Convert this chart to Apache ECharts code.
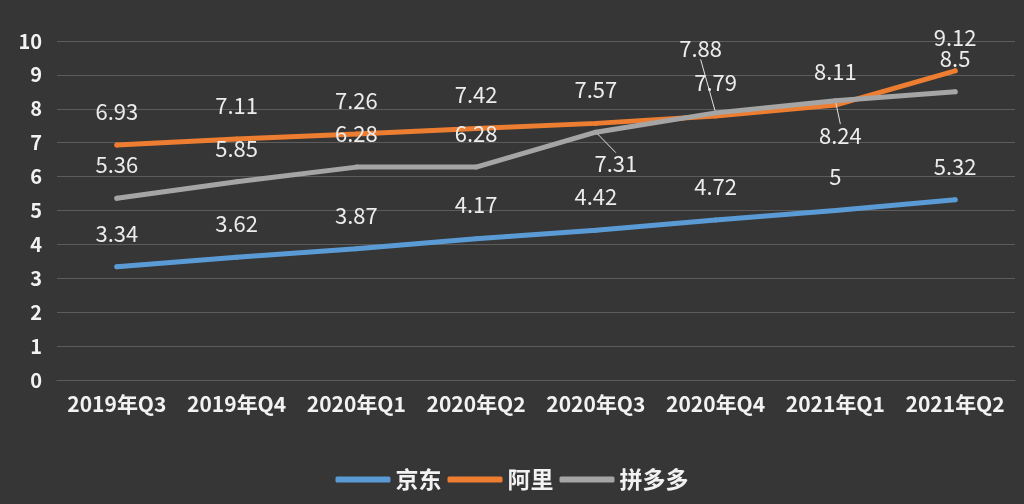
<!DOCTYPE html>
<html><head><meta charset="utf-8">
<script src="https://cdn.jsdelivr.net/npm/echarts@6/dist/echarts.min.js"></script>
<style>html,body{margin:0;padding:0;background:#363636;}#c{width:1024px;height:504px;}</style>
</head><body><div id="c"></div>
<script>
var categories = ['2019年Q3','2019年Q4','2020年Q1','2020年Q2','2020年Q3','2020年Q4','2021年Q1','2021年Q2'];
var jd  = [3.34, 3.62, 3.87, 4.17, 4.42, 4.72, 5, 5.32];
var ali = [6.93, 7.11, 7.26, 7.42, 7.57, 7.79, 8.11, 9.12];
var pdd = [5.36, 5.85, 6.28, 6.28, 7.31, 7.88, 8.24, 8.5];
var seriesNames = ['京东','阿里','拼多多'];
var colors = ['#5b9bd5','#ed7d31','#a5a5a5'];

var font = '"Noto Sans CJK SC","Open Sans",sans-serif';
var pddMoves = {4:{dx:20,dy:65},5:{dx:-15,dy:-31},6:{dx:5,dy:68}};

function mk(name, data, color, idx) {
  return {
    name: name, type: 'line', data: data.map(function(v,i){
      var o = {value: v};
      if (idx === 2 && pddMoves[i]) o.labelLine = {show: true};
      return o;
    }),
    symbol: 'circle', symbolSize: 5, showSymbol: true,
    itemStyle: {color: color},
    lineStyle: {width: 5, color: color, cap: 'round'},
    label: {show: true, position: 'top', distance: 20, color: '#ececec', fontSize: 22, fontFamily: font},
    labelLine: {show: false, lineStyle: {color: '#e0e0e0', width: 1}},
    labelLayout: idx === 2 ? function(p){ var m = pddMoves[p.dataIndex]; return m ? {dx: m.dx, dy: m.dy} : {}; } : undefined,
    z: idx === 2 ? 3 : 2
  };
}

var chart = echarts.init(document.getElementById('c'));
chart.setOption({
  backgroundColor: '#363636',
  animation: false,
  color: colors,
  grid: {left: 57, right: 9, top: 41, bottom: 124},
  xAxis: {
    type: 'category', data: categories, boundaryGap: true,
    axisLine: {lineStyle: {color: '#5c5c5c'}}, axisTick: {show: false},
    axisLabel: {interval: 0, hideOverlap: false, color: '#f2f2f2', fontSize: 21, fontWeight: 'bold', margin: 14, fontFamily: font}
  },
  yAxis: {
    type: 'value', min: 0, max: 10, interval: 1,
    axisLabel: {color: '#f2f2f2', fontSize: 20, fontWeight: 'bold', margin: 15, fontFamily: font},
    splitLine: {lineStyle: {color: '#5c5c5c'}}
  },
  legend: {
    bottom: 8, left: 'center', icon: 'roundRect', itemWidth: 55, itemHeight: 6, itemGap: 6,
    textStyle: {color: '#f2f2f2', fontSize: 23, fontWeight: 'bold', fontFamily: font},
    data: seriesNames
  },
  series: [mk(seriesNames[0], jd, colors[0], 0), mk(seriesNames[1], ali, colors[1], 1), mk(seriesNames[2], pdd, colors[2], 2)]
});
</script></body></html>
